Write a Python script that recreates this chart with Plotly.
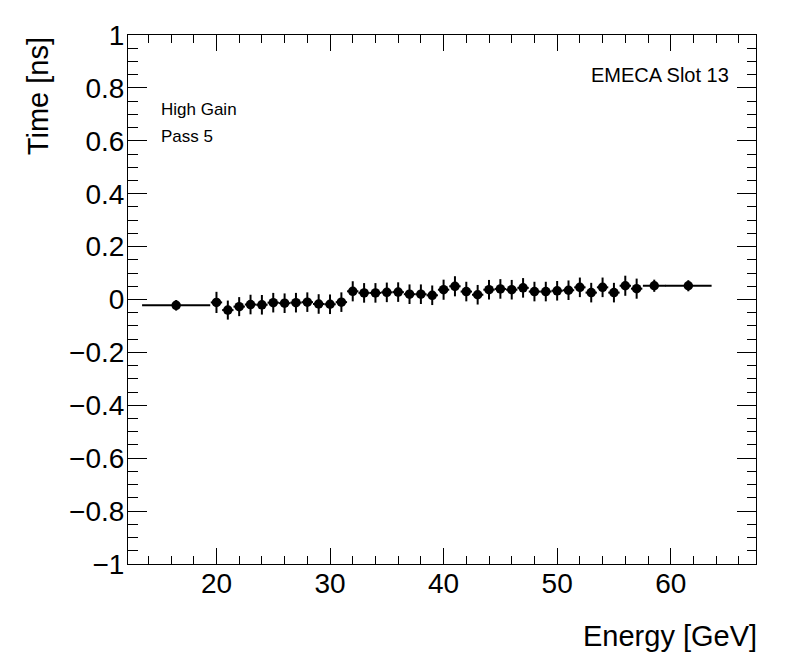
import plotly.graph_objects as go

# values
energy = [16.45, 20, 21, 22, 23, 24, 25, 26, 27, 28, 29, 30, 31, 32, 33, 34, 35, 36,
          37, 38, 39, 40, 41, 42, 43, 44, 45, 46, 47, 48, 49, 50, 51, 52, 53, 54,
          55, 56, 57, 58.55, 61.55]
time = [-0.022, -0.011, -0.040, -0.027, -0.019, -0.020, -0.012, -0.014, -0.012, -0.010,
        -0.017, -0.018, -0.010, 0.031, 0.025, 0.025, 0.027, 0.028, 0.020, 0.020, 0.016,
        0.037, 0.050, 0.030, 0.018, 0.037, 0.040, 0.037, 0.044, 0.030, 0.030, 0.033,
        0.035, 0.046, 0.026, 0.046, 0.026, 0.052, 0.041, 0.052, 0.052]
energy_err = [3.0] + [0.5] * 38 + [1.0, 2.05]
time_err = [0.020, 0.040, 0.036, 0.036, 0.037, 0.037, 0.037, 0.037, 0.037, 0.037,
            0.037, 0.037, 0.037, 0.038, 0.037, 0.037, 0.037, 0.037, 0.037, 0.037, 0.037,
            0.038, 0.038, 0.037, 0.037, 0.037, 0.037, 0.037, 0.037, 0.037, 0.037, 0.037,
            0.037, 0.037, 0.037, 0.037, 0.037, 0.038, 0.038, 0.023, 0.021]

FONT = "Liberation Sans, Arial, sans-serif"

fig = go.Figure()
fig.add_trace(go.Scatter(
    x=energy, y=time, mode="markers",
    marker=dict(symbol="circle", size=9.5, color="black"),
    error_x=dict(type="data", array=energy_err, color="black", thickness=2, width=0),
    error_y=dict(type="data", array=time_err, color="black", thickness=2, width=0),
    showlegend=False,
))

axis_common = dict(
    showline=True, linecolor="black", linewidth=1, mirror="allticks",
    ticks="inside", tickcolor="black", showgrid=False, zeroline=False,
    tickfont=dict(family=FONT, size=28, color="black"),
)

fig.update_xaxes(
    range=[12.21, 67.51], tick0=0, dtick=10, ticklen=16, tickwidth=1,
    ticklabelstandoff=-6,
    minor=dict(dtick=2, ticks="inside", ticklen=8, tickcolor="black", showgrid=False),
    **axis_common,
)
fig.update_yaxes(
    range=[-1, 1], tick0=0, dtick=0.2, ticklen=19, tickwidth=1,
    ticklabelstandoff=-3,
    minor=dict(dtick=0.05, ticks="inside", ticklen=9.5, tickcolor="black", showgrid=False),
    **axis_common,
)

# the page body has an 8px margin, so the figure is sized to sit inside the window
fig.update_layout(
    width=788, height=664,
    margin=dict(l=120, r=40, t=25, b=108),
    plot_bgcolor="white", paper_bgcolor="white",
    font=dict(family=FONT, color="black"),
    annotations=[
        dict(text="Time [ns]", xref="paper", yref="paper", x=-0.143, y=1,
             xanchor="center", yanchor="top", textangle=-90, showarrow=False,
             font=dict(size=29)),
        dict(text="Energy [GeV]", xref="paper", yref="paper", x=1, y=-0.1365,
             xanchor="right", yanchor="middle", xshift=3, showarrow=False,
             font=dict(size=29)),
        dict(text="EMECA Slot 13", xref="paper", yref="paper", x=0.960, y=0.925,
             xanchor="right", yanchor="middle", showarrow=False,
             font=dict(size=20)),
        dict(text="High Gain", xref="paper", yref="paper", x=0.0499, y=0.859,
             xanchor="left", yanchor="middle", showarrow=False,
             font=dict(size=17)),
        dict(text="Pass 5", xref="paper", yref="paper", x=0.0499, y=0.8085,
             xanchor="left", yanchor="middle", showarrow=False,
             font=dict(size=17)),
    ],
)

fig.write_html("out.html")
